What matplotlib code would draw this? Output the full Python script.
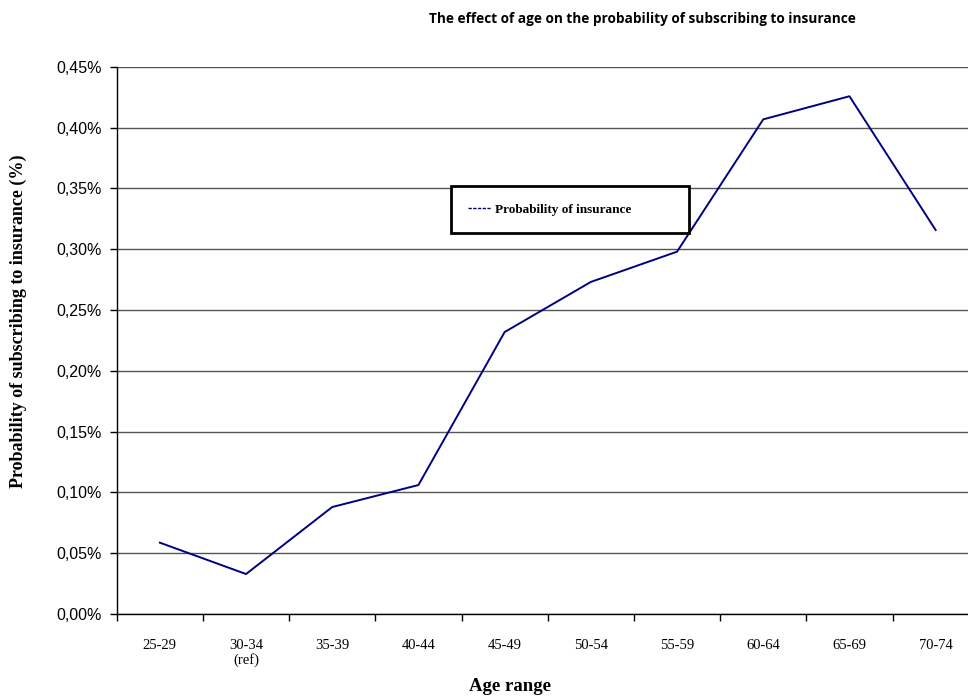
import numpy as np
import matplotlib
matplotlib.use('Agg')
import matplotlib.pyplot as plt
from matplotlib.lines import Line2D
from matplotlib.ticker import FuncFormatter, FixedLocator

# data (probability in %)
age_ranges = ['25-29', '30-34\n(ref)', '35-39', '40-44', '45-49',
              '50-54', '55-59', '60-64', '65-69', '70-74']
prob = [0.0586, 0.0328, 0.0879, 0.1060, 0.2318,
        0.2730, 0.2979, 0.4067, 0.4257, 0.3157]
y_ticks = [0.00, 0.05, 0.10, 0.15, 0.20, 0.25, 0.30, 0.35, 0.40, 0.45]

navy = '#000080'
serif = ['Liberation Serif', 'DejaVu Serif']
sans = ['Liberation Sans', 'DejaVu Sans']

fig = plt.figure(figsize=(9.68, 6.97), dpi=100)
ax = fig.add_axes([0.1206, 0.1192, 0.8905, 0.7851])

x = np.arange(len(age_ranges))
ax.plot(x, prob, color=navy, lw=1.4, zorder=3)

ax.set_xlim(-0.5, len(age_ranges) - 0.5)
ax.set_ylim(0, 0.45)

# y axis: percent with comma decimals
ax.set_yticks(y_ticks)
ax.yaxis.set_major_formatter(FuncFormatter(lambda v, p: ('%.2f%%' % v).replace('.', ',')))
ax.tick_params(axis='y', direction='out', length=5, width=1, pad=6, labelsize=11.5)
for lab in ax.get_yticklabels():
    lab.set_family(sans)

# x axis: ticks on category boundaries, labels at centres
ax.xaxis.set_major_locator(FixedLocator(np.arange(-0.5, len(age_ranges), 1.0)))
ax.xaxis.set_minor_locator(FixedLocator(x))
ax.set_xticklabels([], minor=False)
ax.set_xticklabels(age_ranges, minor=True, va='top', linespacing=1.1)
ax.tick_params(axis='x', which='major', direction='out', length=5, width=1)
ax.tick_params(axis='x', which='minor', length=0, pad=18, labelsize=10.5)
for lab in ax.get_xticklabels(minor=True):
    lab.set_family(serif)

ax.grid(axis='y', color='#555555', lw=1)
ax.set_axisbelow(True)
for s in ['top', 'right']:
    ax.spines[s].set_visible(False)
for s in ['left', 'bottom']:
    ax.spines[s].set_color('black')
    ax.spines[s].set_linewidth(1)

ax.set_xlabel('Age range', family=serif, fontweight='bold', fontsize=13.5, va='center')
ax.xaxis.set_label_coords(0.4557, -0.1318)

fig.text(18 / 968, 1 - 321 / 697, 'Probability of subscribing to insurance (%)',
         rotation=90, ha='center', va='center', family=serif,
         fontweight='bold', fontsize=13)

fig.text(642 / 968, 1 - 19 / 697,
         'The effect of age on the probability of subscribing to insurance',
         ha='center', va='center', family=['Open Sans', 'DejaVu Sans'],
         fontweight='bold', fontsize=9.8)

handle = Line2D([], [], color=navy, lw=1, ls=(0, (2.4, 1.0)))
leg = ax.legend([handle], ['Probability of insurance'], loc='center left',
                bbox_to_anchor=(0.4659, 0.6671, 0.2459, 0.0646),
                bbox_transform=fig.transFigure, mode='expand', borderaxespad=0,
                prop={'family': serif, 'weight': 'bold', 'size': 9.5},
                handlelength=1.7, handletextpad=0.3, borderpad=1.3,
                fancybox=False, framealpha=1, edgecolor='black')
leg.get_frame().set_linewidth(2)

fig.savefig('out.png', dpi=100)
